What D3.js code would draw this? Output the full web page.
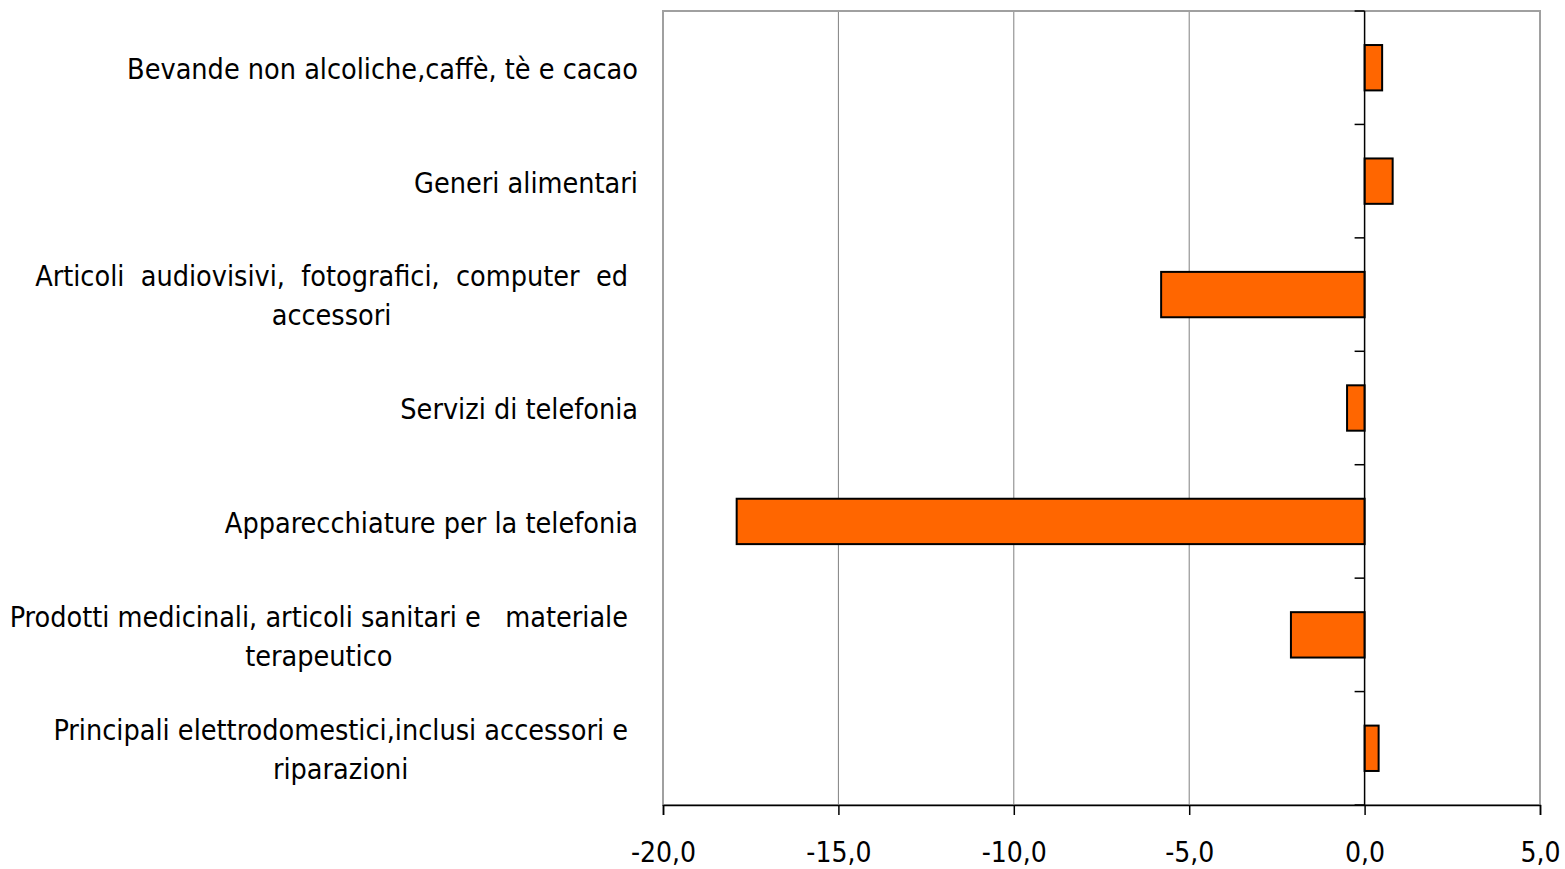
<!DOCTYPE html>
<html lang="it">
<head>
<meta charset="UTF-8">
<title>Variazioni</title>
<script src="https://d3js.org/d3.v7.min.js"></script>
<style>
  body { margin: 0; background: #fff; }
  svg text { font-family: 'DejaVu Sans Condensed', 'DejaVu Sans', sans-serif; fill: #000; }
</style>
</head>
<body>
<svg id="chart" width="1565" height="869"></svg>
<script>
// categories, one array of lines per label
const categories = [
  ["Bevande non alcoliche,caffè, tè e cacao"],
  ["Generi alimentari"],
  ["Articoli  audiovisivi,  fotografici,  computer  ed", "accessori"],
  ["Servizi di telefonia"],
  ["Apparecchiature per la telefonia"],
  ["Prodotti medicinali, articoli sanitari e   materiale", "terapeutico"],
  ["Principali elettrodomestici,inclusi accessori e", "riparazioni"]
];
const values = [0.5, 0.8, -5.8, -0.5, -17.9, -2.1, 0.4];
const xTicks = [-20, -15, -10, -5, 0, 5];

const svg = d3.select("#chart");
const plot = { left: 663, right: 1540, top: 11, bottom: 805 };

const x = d3.scaleLinear().domain([-20, 5]).range([plot.left, plot.right]);
const y = d3.scaleBand().domain(d3.range(categories.length)).range([plot.top, plot.bottom]).paddingInner(0.6).paddingOuter(0.3);
const band = d3.scaleBand().domain(d3.range(categories.length)).range([plot.top, plot.bottom]);

// gridlines
svg.append("g").selectAll("line").data(xTicks.slice(1, -2)).join("line")
  .attr("x1", d => x(d)).attr("x2", d => x(d))
  .attr("y1", plot.top).attr("y2", plot.bottom)
  .attr("stroke", "#808080").attr("stroke-width", 1);

// plot border
svg.append("rect")
  .attr("x", plot.left).attr("y", plot.top).attr("width", plot.right - plot.left).attr("height", plot.bottom - plot.top)
  .attr("fill", "none").attr("stroke", "#a0a0a0").attr("stroke-width", 2);

// bars
svg.append("g").selectAll("rect").data(values).join("rect")
  .attr("x", d => x(Math.min(0, d)))
  .attr("y", (d, i) => y(i))
  .attr("width", d => Math.abs(x(d) - x(0)))
  .attr("height", y.bandwidth())
  .attr("fill", "#FF6600")
  .attr("stroke", "#000").attr("stroke-width", 2);

// x axis
const xAxis = d3.axisBottom(x).tickValues(xTicks).tickSize(10).tickPadding(27)
  .tickFormat(d => d3.format(".1f")(d).replace(".", ",").replace("\u2212", "-"));
const gx = svg.append("g").attr("transform", `translate(0,${plot.bottom})`).call(xAxis);
gx.select(".domain").attr("stroke", "#000").attr("stroke-width", 1.5);
gx.selectAll(".tick line").attr("stroke", "#000").attr("stroke-width", 1.5);
gx.selectAll("text").attr("font-size", 28).attr("font-family", "'DejaVu Sans Condensed', sans-serif").attr("fill", "#000");

// category axis at zero
const boundaries = d3.range(categories.length + 1).map(i => plot.top + i * band.step());
const gy = svg.append("g");
gy.append("line").attr("x1", x(0)).attr("x2", x(0)).attr("y1", plot.top).attr("y2", plot.bottom)
  .attr("stroke", "#000").attr("stroke-width", 1.5);
gy.selectAll(".tk").data(boundaries).join("line").attr("class", "tk")
  .attr("x1", x(0) - 10).attr("x2", x(0)).attr("y1", d => d).attr("y2", d => d)
  .attr("stroke", "#000").attr("stroke-width", 1.5);

// category labels
const labels = svg.append("g");
categories.forEach((lines, i) => {
  const cy = band(i) + band.bandwidth() / 2;
  if (lines.length === 1) {
    labels.append("text")
      .attr("x", 638).attr("y", cy).attr("dy", "0.4em")
      .attr("text-anchor", "end").attr("font-size", 28.5)
      .text(lines[0]);
  } else {
    const t = labels.append("text")
      .attr("x", 628).attr("y", cy - 19.5).attr("dy", "0.4em")
      .attr("text-anchor", "end").attr("font-size", 28.5)
      .style("white-space", "pre")
      .text(lines[0]);
    const w = t.node().getComputedTextLength();
    labels.append("text")
      .attr("x", 628 - w / 2).attr("y", cy + 19.5).attr("dy", "0.4em")
      .attr("text-anchor", "middle").attr("font-size", 28.5)
      .text(lines[1]);
  }
});
</script>
</body>
</html>
